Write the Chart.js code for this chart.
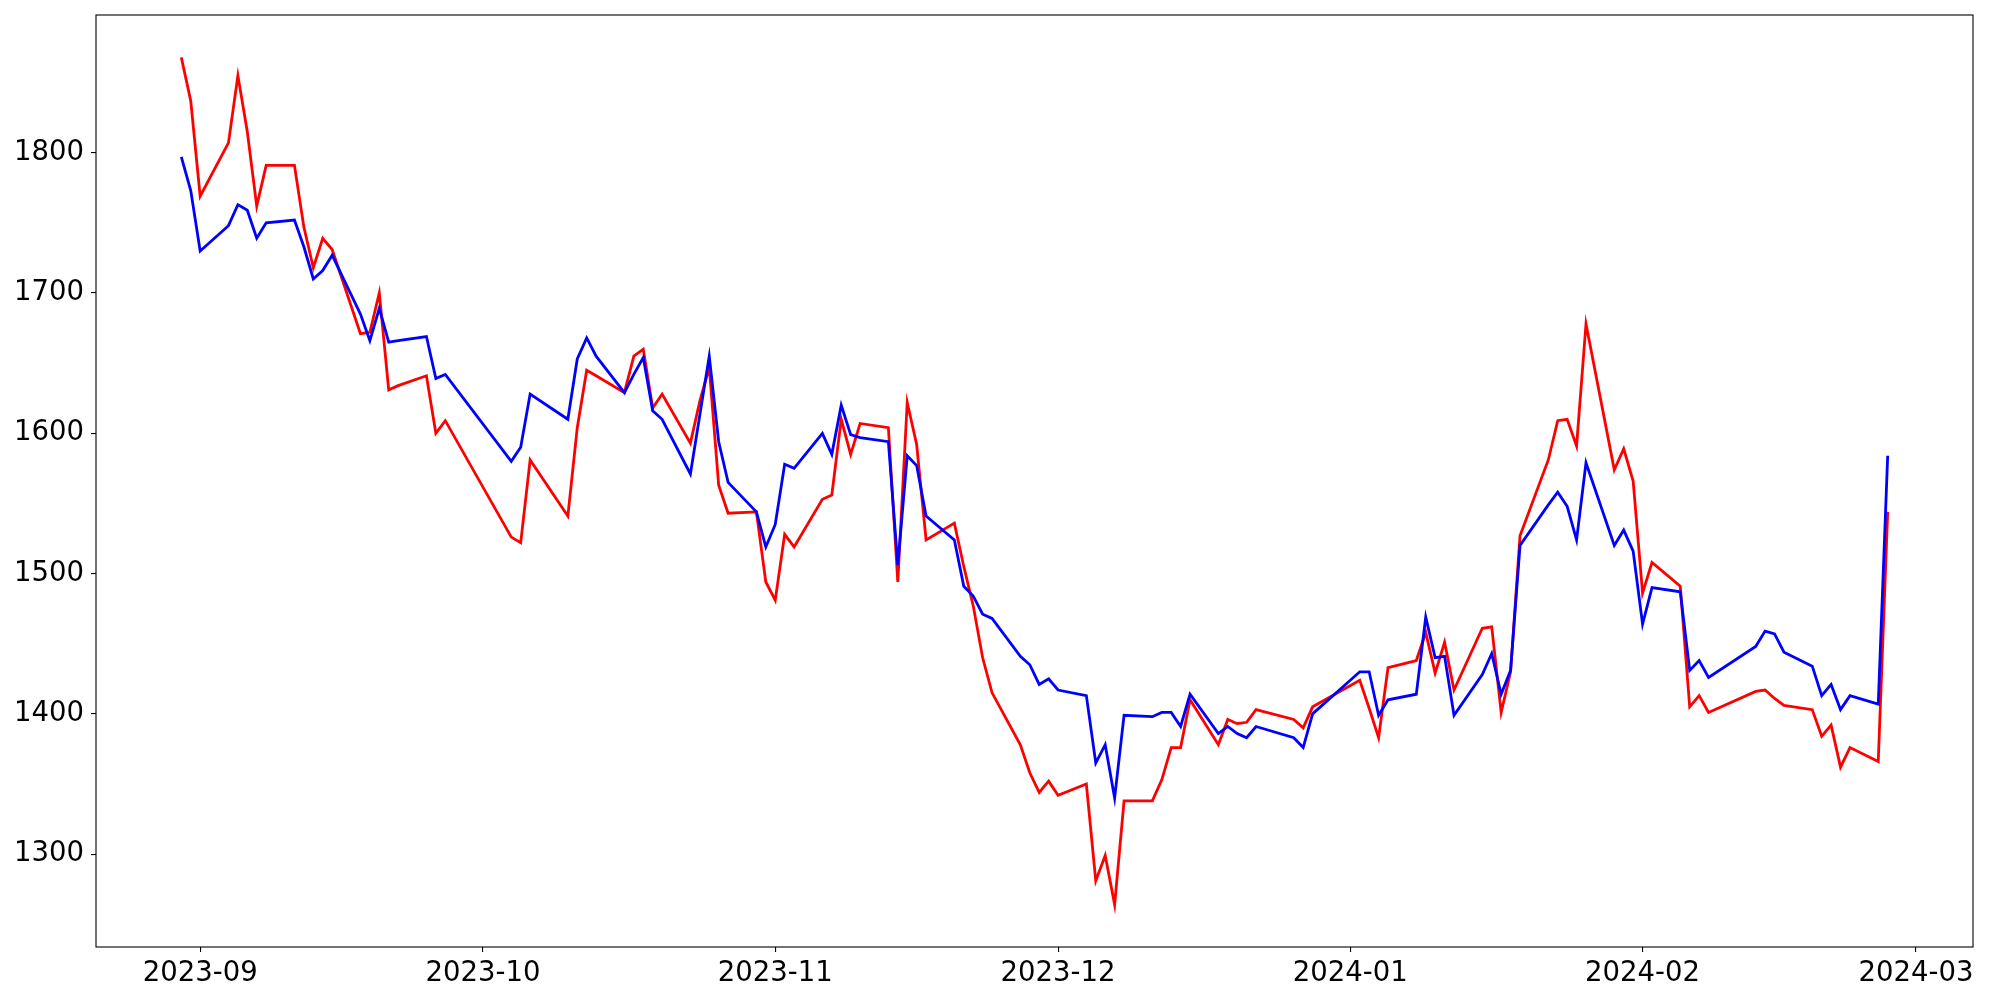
<!DOCTYPE html>
<html>
<head>
<meta charset="utf-8">
<script src="https://cdn.jsdelivr.net/npm/chart.js@4.4.1/dist/chart.umd.min.js"></script>
<style>
  html, body { margin: 0; padding: 0; background: #fff; }
</style>
</head>
<body>
<canvas id="myChart" width="2000" height="1000"></canvas>
<script>
// trading days (KRX calendar)
var dates = [
    '2023-08-30', '2023-08-31', '2023-09-01', '2023-09-04', '2023-09-05', '2023-09-06', '2023-09-07', '2023-09-08',
    '2023-09-11', '2023-09-12', '2023-09-13', '2023-09-14', '2023-09-15', '2023-09-18', '2023-09-19', '2023-09-20',
    '2023-09-21', '2023-09-22', '2023-09-25', '2023-09-26', '2023-09-27',
    '2023-10-04', '2023-10-05', '2023-10-06', '2023-10-10', '2023-10-11', '2023-10-12', '2023-10-13', '2023-10-16',
    '2023-10-17', '2023-10-18', '2023-10-19', '2023-10-20', '2023-10-23', '2023-10-24', '2023-10-25', '2023-10-26',
    '2023-10-27', '2023-10-30', '2023-10-31',
    '2023-11-01', '2023-11-02', '2023-11-03', '2023-11-06', '2023-11-07', '2023-11-08', '2023-11-09', '2023-11-10',
    '2023-11-13', '2023-11-14', '2023-11-15', '2023-11-16', '2023-11-17', '2023-11-20', '2023-11-21', '2023-11-22',
    '2023-11-23', '2023-11-24', '2023-11-27', '2023-11-28', '2023-11-29', '2023-11-30',
    '2023-12-01', '2023-12-04', '2023-12-05', '2023-12-06', '2023-12-07', '2023-12-08', '2023-12-11', '2023-12-12',
    '2023-12-13', '2023-12-14', '2023-12-15', '2023-12-18', '2023-12-19', '2023-12-20', '2023-12-21', '2023-12-22',
    '2023-12-26', '2023-12-27', '2023-12-28',
    '2024-01-02', '2024-01-03', '2024-01-04', '2024-01-05', '2024-01-08', '2024-01-09', '2024-01-10', '2024-01-11',
    '2024-01-12', '2024-01-15', '2024-01-16', '2024-01-17', '2024-01-18', '2024-01-19', '2024-01-22', '2024-01-23',
    '2024-01-24', '2024-01-25', '2024-01-26', '2024-01-29', '2024-01-30', '2024-01-31',
    '2024-02-01', '2024-02-02', '2024-02-05', '2024-02-06', '2024-02-07', '2024-02-08', '2024-02-13', '2024-02-14',
    '2024-02-15', '2024-02-16', '2024-02-19', '2024-02-20', '2024-02-21', '2024-02-22', '2024-02-23', '2024-02-26',
    '2024-02-27'
];

var redValues = [
    1868, 1837, 1769, 1807, 1855, 1815, 1762, 1791, 1791, 1747, 1718, 1739, 1731, 1671, 1672, 1700, 1631, 1634, 1641, 1600, 1609,
    1526, 1522, 1581, 1541, 1604, 1645, 1641, 1629, 1655, 1660, 1618, 1628, 1593, 1623, 1647, 1563, 1543, 1544, 1494,
    1481, 1528, 1519, 1553, 1556, 1610, 1585, 1607, 1604, 1494, 1622, 1592, 1524, 1536, 1505, 1477, 1440, 1415, 1378, 1358, 1344, 1352,
    1342, 1350, 1281, 1299, 1264, 1338, 1338, 1353, 1376, 1376, 1410, 1378, 1396, 1393, 1394, 1403, 1396, 1390, 1405,
    1424, 1404, 1383, 1433, 1438, 1458, 1429, 1451, 1417, 1461, 1462, 1401, 1430, 1527, 1581, 1609, 1610, 1591, 1678, 1574, 1589, 1566,
    1486, 1508, 1491, 1405, 1413, 1401, 1416, 1417, 1411, 1406, 1403, 1384, 1392, 1362, 1376, 1366, 1544
];

var blueValues = [
    1797, 1773, 1730, 1748, 1763, 1759, 1739, 1750, 1752, 1733, 1710, 1716, 1727, 1685, 1666, 1689, 1665, 1666, 1669, 1639, 1642,
    1580, 1590, 1628, 1610, 1653, 1668, 1655, 1629, 1642, 1654, 1616, 1610, 1571, 1613, 1655, 1594, 1565, 1544, 1519,
    1535, 1578, 1575, 1600, 1585, 1620, 1599, 1597, 1594, 1506, 1584, 1577, 1541, 1524, 1491, 1484, 1471, 1468, 1441, 1435, 1421, 1425,
    1417, 1413, 1365, 1378, 1340, 1399, 1398, 1401, 1401, 1391, 1414, 1386, 1391, 1386, 1383, 1391, 1383, 1376, 1400,
    1430, 1430, 1399, 1410, 1414, 1469, 1440, 1441, 1399, 1428, 1443, 1414, 1431, 1520, 1549, 1558, 1548, 1524, 1579, 1520, 1531, 1516,
    1464, 1490, 1487, 1431, 1438, 1426, 1448, 1459, 1457, 1444, 1434, 1413, 1421, 1403, 1413, 1407, 1584
];

var monthTicks = ['2023-09-01', '2023-10-01', '2023-11-01', '2023-12-01', '2024-01-01', '2024-02-01', '2024-03-01'];
var yTicks = [1300, 1400, 1500, 1600, 1700, 1800];

function dayNum(s) {
    var p = s.split('-');
    return Date.UTC(+p[0], +p[1] - 1, +p[2]) / 86400000;
}

var xs = dates.map(dayNum);
var xPad = (xs[xs.length - 1] - xs[0]) * 0.05;
var allVals = redValues.concat(blueValues);
var yLo = Math.min.apply(null, allVals), yHi = Math.max.apply(null, allVals);
var yPad = (yHi - yLo) * 0.05;

function toPoints(vals) {
    return vals.map(function (v, i) { return { x: xs[i], y: v }; });
}

var tickLabel = {};
monthTicks.forEach(function (s) { tickLabel[dayNum(s)] = s.slice(0, 7); });

// matplotlib style box around the plot area
var frame = {
    id: 'frame',
    afterDraw: function (chart) {
        var a = chart.chartArea, c = chart.ctx;
        c.save();
        c.strokeStyle = '#000';
        c.lineWidth = 1.1;
        c.strokeRect(a.left, a.top, a.right - a.left, a.bottom - a.top);
        c.restore();
    }
};

Chart.defaults.font.family = 'DejaVu Sans';
Chart.defaults.font.size = 27.5;
Chart.defaults.color = '#000';

var ctx = document.getElementById('myChart').getContext('2d');
var myChart = new Chart(ctx, {
    type: 'line',
    data: {
        datasets: [{
            data: toPoints(blueValues),
            borderColor: '#0000ff',
            borderWidth: 2.8,
            pointRadius: 0,
            tension: 0
        }, {
            data: toPoints(redValues),
            borderColor: '#ff0000',
            borderWidth: 2.8,
            pointRadius: 0,
            tension: 0
        }]
    },
    options: {
        responsive: false,
        animation: false,
        devicePixelRatio: 1,
        layout: { padding: { left: 0, top: 15, right: 27, bottom: 0 } },
        plugins: { legend: { display: false }, tooltip: { enabled: false } },
        scales: {
            x: {
                type: 'linear',
                min: xs[0] - xPad,
                max: xs[xs.length - 1] + xPad,
                afterBuildTicks: function (scale) {
                    scale.ticks = monthTicks.map(function (s) { return { value: dayNum(s) }; });
                },
                afterFit: function (scale) {
                    scale.height = 53;
                    scale.paddingLeft = 0;
                    scale.paddingRight = 0;
                },
                ticks: {
                    autoSkip: false,
                    maxRotation: 0,
                    padding: 5,
                    callback: function (v) { return tickLabel[v]; }
                },
                grid: { drawOnChartArea: false, tickLength: 5, color: '#000', lineWidth: 1.1 },
                border: { display: false }
            },
            y: {
                type: 'linear',
                min: yLo - yPad,
                max: yHi + yPad,
                afterBuildTicks: function (scale) {
                    scale.ticks = yTicks.map(function (v) { return { value: v }; });
                },
                afterFit: function (scale) {
                    scale.width = 96;
                    scale.paddingTop = 0;
                    scale.paddingBottom = 0;
                },
                ticks: {
                    padding: 7,
                    callback: function (v) { return String(v); }
                },
                grid: { drawOnChartArea: false, tickLength: 5, color: '#000', lineWidth: 1.1 },
                border: { display: false }
            }
        }
    },
    plugins: [frame]
});
</script>
</body>
</html>
